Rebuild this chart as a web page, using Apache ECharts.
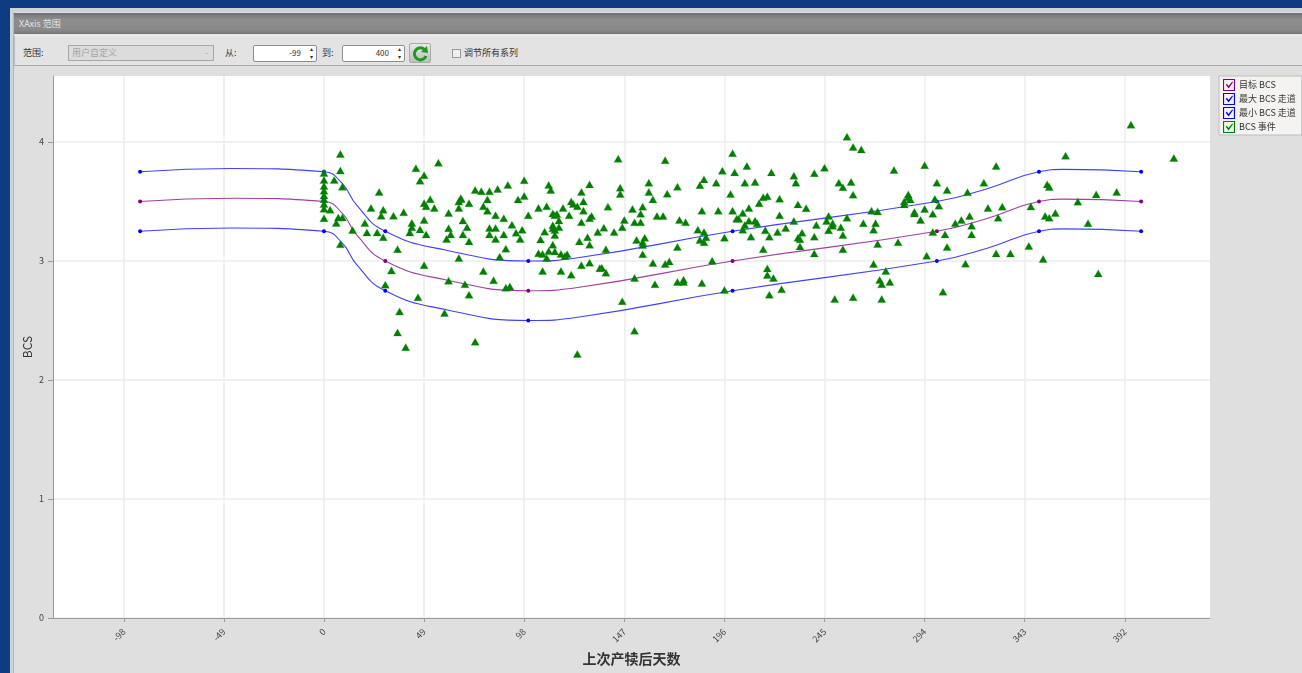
<!DOCTYPE html>
<html><head><meta charset="utf-8">
<style>
html,body{margin:0;padding:0;width:1302px;height:673px;overflow:hidden;background:#0e3c82;font-family:"Noto Sans CJK SC","Liberation Sans",sans-serif;}
.a{position:absolute;box-sizing:border-box;white-space:nowrap;}
.t{font-size:9px;color:#333;line-height:14px;}
.inp{background:#fff;border:1px solid #8e8e8e;border-radius:2px;text-align:right;font-size:8px;line-height:14px;color:#333;padding-right:15px;}
#c{position:absolute;left:0;top:0;width:1302px;height:673px;}
</style>
<script src="https://cdn.jsdelivr.net/npm/echarts@6/dist/echarts.min.js"></script>
</head><body>
<div class="a" style="left:10px;top:8px;width:1292px;height:665px;background:#cfd3d8"></div>
<div class="a" style="left:13px;top:12px;width:1289px;height:661px;background:#dfdfdf;border-left:1px solid #b5b5b5"></div>
<div class="a" style="left:14px;top:13px;width:1288px;height:21px;background:linear-gradient(#6e6e6e,#8e8e8e 30%,#8a8a8a 80%,#777)"></div>
<div class="a t" style="left:19px;top:17px;color:#e4e4e4;font-size:9px">XAxis 范围</div>
<div class="a" style="left:14px;top:35px;width:1288px;height:31px;background:#e3e3e3;border-top:1px solid #f2f2f2;border-bottom:1px solid #aaa;border-left:1px solid #bbb"></div>
<div class="a t" style="left:23px;top:46px">范围:</div>
<div class="a t" style="left:68px;top:45px;width:146px;height:16px;background:#dcdcdc;border:1px solid #a8a8a8;color:#a5a5a5;padding-left:3px">用户自定义<span style="position:absolute;right:5px;top:0">-</span></div>
<div class="a t" style="left:225px;top:46px">从:</div>
<div class="a inp" style="left:253px;top:45px;width:64px;height:17px">-99<span style="position:absolute;right:3px;top:-1px;font-size:6px;line-height:8px;text-align:center">▴<br>▾</span></div>
<div class="a t" style="left:322px;top:46px">到:</div>
<div class="a inp" style="left:342px;top:45px;width:63px;height:17px">400<span style="position:absolute;right:3px;top:-1px;font-size:6px;line-height:8px;text-align:center">▴<br>▾</span></div>
<div class="a" style="left:409px;top:43px;width:22px;height:20px;background:linear-gradient(#e8e8e8,#bdbdbd);border:1px solid #aaa;border-radius:2px">
<svg width="20" height="18" viewBox="0 0 20 18"><path d="M15 5 A6 6 0 1 0 16 11" fill="none" stroke="#1f9a1f" stroke-width="3"/><path d="M11 7 L18 8 L17 1 Z" fill="#1f9a1f"/></svg></div>
<div class="a" style="left:452px;top:49px;width:9px;height:9px;background:#efefef;border:1px solid #9a9a9a"></div>
<div class="a t" style="left:464px;top:46px">调节所有系列</div>
<div id="c"></div>
<script>
const xTicks = [-98,-49,0,49,98,147,196,245,294,343,392];
const yTicks = [0,1,2,3,4];
const pathDays = [-90,0,30,100,200,300,350,400];
const curveDays = [-90,-45,0,9,16,30,60,100,125,200,300,325,350,362,400];
const targetBcs = [3.5,3.528,3.5,3.4,3.22,3.0,2.84,2.75,2.78,3.0,3.25,3.36,3.5,3.52,3.5];
const maxBcs = [3.75,3.778,3.75,3.65,3.47,3.25,3.09,3.0,3.03,3.25,3.5,3.61,3.75,3.77,3.75];
const minBcs = [3.25,3.278,3.25,3.15,2.97,2.75,2.59,2.5,2.53,2.75,3.0,3.11,3.25,3.27,3.25];
const seriesNames = ['目标 BCS','最大 BCS 走道','最小 BCS 走道','BCS 事件'];
const eventPoints = [
[0,3.74],[0,3.68],[0,3.63],[0,3.59],[0,3.55],[0,3.52],[0,3.48],[0,3.44],[0,3.36],
[8,3.90],[8,3.76],[5,3.68],[9,3.625],[3,3.43],[6,3.32],[7,3.365],[9,3.365],[8,3.14],[14,3.26],[20,3.32],
[21,3.24],[23,3.445],[27,3.58],[29,3.43],[28,3.38],[26,3.24],[29,3.20],[34,3.38],[39,3.41],[36,3.10],
[33,2.92],[30,2.80],[37,2.575],[36,2.40],[40,2.275],[46,2.695],[45,3.78],[49,3.72],[47,3.675],[56,3.826],
[49,3.485],[50,3.46],[52,3.52],[54,3.445],[49,3.345],[43,3.32],[43,3.283],[42,3.24],[47,3.266],[50,3.224],
[49,2.964],[61,3.403],[61,3.275],[60,3.185],[62,3.224],[61,2.835],[59,2.563],[67,3.527],[66,3.5],[67,3.52],
[66,3.445],[68,3.34],[70,3.283],[68,3.224],[71,3.165],[66,3.025],[69,2.804],[71,2.717],[74,2.322],[71,3.485],
[74,3.597],[77,3.586],[81,3.586],[85,3.605],[90,3.64],[80,3.518],[78,3.46],[80,3.423],[84,3.384],[88,3.359],
[92,3.305],[81,3.277],[84,3.277],[81,3.224],[88,3.224],[84,3.185],[94,3.238],[96,3.185],[97,3.263],[89,3.104],
[86,3.037],[78,2.916],[83,2.838],[89,2.776],[91,2.785],[98,3.678],[95,3.518],[98,3.546],[100,3.384],[105,3.445],
[109,3.46],[110,3.64],[111,3.597],[126,3.58],[130,3.644],[121,3.5],[122,3.48],[124,3.46],[127,3.5],[127,3.423],
[117,3.445],[112,3.4],[114,3.395],[113,3.384],[120,3.384],[115,3.34],[126,3.325],[131,3.378],[130,3.359],[112,3.3],
[112,3.275],[113,3.26],[115,3.283],[113,3.218],[108,3.247],[106,3.18],[134,3.244],[129,3.2],[125,3.165],[130,3.137],
[112,3.137],[110,3.084],[105,3.065],[107,3.06],[109,3.025],[113,3.08],[116,3.06],[118,3.042],[119,3.056],[107,2.916],
[116,2.916],[121,2.885],[126,2.964],[130,2.986],[124,2.219],[135,2.94],
[144,3.86],[145,3.616],[145,3.563],[139,3.457],[137,3.28],[142,3.244],[147,3.345],[146,3.283],[152,3.325],[155,3.325],
[155,3.398],[151,3.437],[156,3.457],[159,3.658],[159,3.58],[161,3.518],[167,3.846],[168,3.566],[173,3.625],[163,3.378],
[166,3.378],[174,3.345],[177,3.325],[183,3.263],[186,3.244],[187,3.2],[184,3.177],[186,3.157],[153,3.177],[157,3.196],
[156,3.157],[156,3.135],[138,3.098],[136,2.944],[138,2.902],[173,3.118],[156,3.056],[161,2.983],[167,2.975],[169,2.997],
[152,2.857],[162,2.804],[173,2.824],[176,2.824],[176,2.843],[185,2.815],[146,2.661],[152,2.415],[190,3.003],[196,2.756],
[196,3.196],[184,3.636],[186,3.686],[192,3.658],[195,3.759],[200,3.905],[201,3.745],[207,3.798],[206,3.658],[211,3.664],
[219,3.745],[199,3.563],[185,3.423],[193,3.423],[200,3.423],[205,3.403],[208,3.445],[202,3.356],[203,3.356],[208,3.339],
[211,3.339],[212,3.317],[206,3.303],[205,3.263],[213,3.485],[215,3.535],[217,3.544],[223,3.524],[223,3.384],[230,3.336],
[226,3.277],[216,3.258],[222,3.244],[218,3.205],[209,3.205],[215,3.098],[217,2.938],[217,2.882],[220,2.857],[218,2.717],
[224,2.762],[230,3.717],[231,3.658],[240,3.737],[245,3.784],[232,3.476],[236,3.443],[247,3.378],[246,3.336],[241,3.303],
[249,3.317],[249,3.297],[234,3.238],[253,3.283],[247,3.258],[256,3.364],[254,3.218],[232,3.196],[233,3.182],[240,3.205],
[233,3.123],[240,3.064],[254,3.098],[252,3.658],[254,3.619],[258,3.664],[259,3.558],[256,4.045],[259,3.958],[263,3.938],
[279,3.765],[268,3.423],[271,3.417],[264,3.317],[270,3.317],[269,3.263],[271,3.143],[281,3.157],[269,2.975],[275,2.916],
[272,2.84],[273,2.804],[277,2.824],[273,2.681],[259,2.695],[250,2.681],
[294,3.804],[329,3.798],[300,3.658],[305,3.597],[323,3.658],[315,3.577],[299,3.521],[301,3.465],[294,3.437],[298,3.398],
[289,3.412],[289,3.4],[292,3.345],[286,3.56],[286,3.535],[287,3.518],[284,3.5],[284,3.476],[298,3.244],[304,3.224],
[309,3.317],[312,3.345],[316,3.378],[317,3.297],[317,3.224],[325,3.445],[332,3.457],[330,3.364],[305,3.118],[295,3.045],
[303,2.742],[314,2.978],[329,3.064],[336,3.064],[345,3.126],[352,3.017],[346,3.459],[354,3.644],[355,3.622],[363,3.885],
[353,3.378],[355,3.364],[358,3.403],[369,3.499],[378,3.56],[388,3.58],[374,3.317],[379,2.896],[395,4.146],[416,3.866]
];
const zipLine = ys => curveDays.map((d,i)=>pathDays.includes(d)?{value:[d,ys[i]]}:{value:[d,ys[i]],symbol:'none'});
const checkIcon = 'path://M0 0H13V13H0ZM1.2 1.2V11.8H11.8V1.2ZM3 6.2L4.2 5.2L6 7.6L10 2.8L10.8 3.6L6.1 10.2Z';
const lineSeries = (name,ys,color) => ({name,type:'line',data:zipLine(ys),smooth:0.5,symbol:'circle',symbolSize:4,showAllSymbol:true,
  itemStyle:{color},lineStyle:{color,width:1.1,opacity:.75},z:2,animation:false});
const chart = echarts.init(document.getElementById('c'));
chart.setOption({
  animation:false,backgroundColor:'transparent',
  textStyle:{fontFamily:'"Noto Sans CJK SC","Liberation Sans",sans-serif'},
  grid:{left:53,top:76,width:1157,height:542,show:true,backgroundColor:'#fff',borderWidth:0,outerBoundsMode:'none'},
  legend:{selectedMode:false,orient:'vertical',left:1219,top:76,itemWidth:12,itemHeight:12,itemGap:2,padding:[3,6,2,4],
    backgroundColor:'#f4f3ef',borderColor:'#bdbdbd',borderWidth:1,
    textStyle:{fontSize:9,color:'#333',padding:[0,0,0,-1]},
    data:seriesNames.map(n=>({name:n,icon:checkIcon,itemStyle:{borderWidth:0},lineStyle:{width:0}}))},
  xAxis:{type:'value',min:-132.65,max:433.7,
    name:'上次产犊后天数',nameLocation:'middle',nameGap:34,nameMoveOverlap:false,nameTextStyle:{fontSize:14,fontWeight:'bold',color:'#333'},
    axisLine:{show:true,onZero:false,lineStyle:{color:'#9a9a9a'}},
    axisTick:{show:true,length:4,lineStyle:{color:'#9a9a9a'},customValues:xTicks},
    axisLabel:{rotate:45,fontSize:9,color:'#444',margin:12,customValues:xTicks,showMinLabel:true,showMaxLabel:true},
    splitLine:{show:true,lineStyle:{color:'#ececec',width:1.5}}},
  yAxis:{type:'value',min:0,max:4.555,
    name:'BCS',nameLocation:'middle',nameGap:20,nameMoveOverlap:false,nameTextStyle:{fontSize:12,color:'#333'},
    axisLine:{show:true,onZero:false,lineStyle:{color:'#9a9a9a'}},
    axisTick:{show:true,length:5,lineStyle:{color:'#9a9a9a'},customValues:yTicks},
    axisLabel:{fontSize:9,color:'#444',margin:9,customValues:yTicks},
    splitLine:{show:true,lineStyle:{color:'#ececec',width:1.5}}},
  series:[
    lineSeries(seriesNames[0],targetBcs,'#800080'),
    lineSeries(seriesNames[1],maxBcs,'#0000ff'),
    lineSeries(seriesNames[2],minBcs,'#0000ff'),
    {name:seriesNames[3],type:'scatter',data:eventPoints,symbol:'triangle',symbolSize:[8,7],z:3,
     itemStyle:{color:'#008000',opacity:1,borderColor:'rgba(0,128,0,.25)',borderWidth:1}}
  ]
});
</script>
</body></html>
